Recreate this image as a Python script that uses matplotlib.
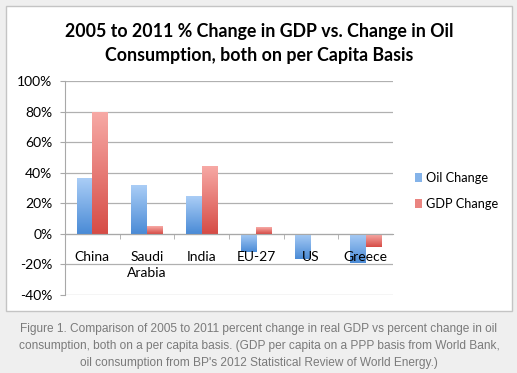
import numpy as np
import matplotlib
matplotlib.use("Agg")
import matplotlib.pyplot as plt
from matplotlib.colors import LinearSegmentedColormap
from matplotlib.patches import Rectangle
from matplotlib.ticker import FuncFormatter, FixedLocator

countries = ["China", "Saudi\nArabia", "India", "EU-27", "US", "Greece"]
oil_change = [36.5, 32, 24.5, -12, -16.5, -19]
gdp_change = [80, 5, 44.5, 4.5, -0.4, -8.5]
series_names = ["Oil Change", "GDP Change"]
yticks = [-40, -20, 0, 20, 40, 60, 80, 100]

title = "2005 to 2011 % Change in GDP vs. Change in Oil\nConsumption, both on per Capita Basis"
caption = ("Figure 1. Comparison of 2005 to 2011 percent change in real GDP vs percent change in oil\n"
           "consumption, both on a per capita basis. (GDP per capita on a PPP basis from World Bank,\n"
           "oil consumption from BP's 2012 Statistical Review of World Energy.)")

blue_cmap = LinearSegmentedColormap.from_list("b", ["#4a8bd6", "#aacdf6"])
red_cmap = LinearSegmentedColormap.from_list("r", ["#d64c46", "#f7aaa6"])

fig = plt.figure(figsize=(5.17, 3.73), dpi=100)
fig.patch.set_facecolor("#efefef")

# white chart box
fig.patches.append(Rectangle((6 / 517, 1 - 311 / 373), 506 / 517, 305 / 373,
                             transform=fig.transFigure, facecolor="white",
                             edgecolor="#c4c4c4", linewidth=1.0, zorder=-5))

ax = fig.add_axes([65 / 517, 1 - 295 / 373, 328 / 517, 214 / 373])
ax.set_facecolor("none")
ax.set_zorder(2)

x = np.arange(len(countries))
w = 0.285
grad = np.linspace(0, 1, 100).reshape(-1, 1)

handles = []
for vals, off, cmap, name in [(oil_change, -w / 2, blue_cmap, series_names[0]),
                              (gdp_change, w / 2, red_cmap, series_names[1])]:
    bars = ax.bar(x + off, vals, w, color="none", edgecolor="none", zorder=3)
    for b in bars:
        x0, y0 = b.get_x(), b.get_y()
        x1, y1 = x0 + b.get_width(), y0 + b.get_height()
        lo, hi = min(y0, y1), max(y0, y1)
        im = ax.imshow(grad, cmap=cmap, extent=[x0, x1, lo, hi], origin="lower",
                       aspect="auto", zorder=3, interpolation="bilinear")
        im.set_clip_path(b)
    handles.append(Rectangle((0, 0), 1, 1, facecolor=cmap(0.6), edgecolor="none", label=name))

ax.set_xlim(-0.5, len(countries) - 0.5)
ax.set_ylim(-40, 100)
ax.set_yticks(yticks)
ax.yaxis.set_major_formatter(FuncFormatter(lambda v, p: f"{int(v)}%"))
ax.grid(axis="y", color="#b0b0b0", linewidth=0.9, zorder=1)
ax.set_axisbelow(True)

for s in ["top", "right"]:
    ax.spines[s].set_visible(False)
ax.spines["left"].set_color("#a8a8a8")
ax.spines["bottom"].set_position(("data", 0))
ax.spines["bottom"].set_color("#a8a8a8")
ax.spines["bottom"].set_zorder(4)
ax.xaxis.set_zorder(5)

ax.set_xticks(x)
ax.set_xticklabels(countries, fontsize=10, family="Lato", linespacing=1.35)
ax.tick_params(axis="x", length=0, pad=12.5)
ax.xaxis.set_minor_locator(FixedLocator(np.arange(0.5, len(countries) - 0.5, 1)))
ax.tick_params(axis="x", which="minor", length=3.6, color="#a8a8a8", direction="out")
ax.tick_params(axis="y", length=3.6, color="#a8a8a8", labelsize=10, pad=5.5)
for t in ax.get_yticklabels():
    t.set_family("Lato")

ax.legend(handles=handles, loc="upper left", bbox_to_anchor=(403 / 517, 1 - 160 / 373),
          bbox_transform=fig.transFigure, frameon=False, handlelength=0.6,
          handleheight=0.7, handletextpad=0.3, labelspacing=1.1,
          prop={"family": "Lato", "size": 9.2})

fig.text(259 / 517, 1 - 44 / 373, title, ha="center", va="center", fontsize=12.8,
         fontweight="bold", family="Lato", linespacing=1.5)
fig.text(259 / 517, 1 - 346 / 373, caption, ha="center", va="center", fontsize=8.6,
         family="Liberation Sans", color="#7a7a7a", linespacing=1.6)

fig.savefig("out.png", dpi=100, facecolor=fig.get_facecolor())
